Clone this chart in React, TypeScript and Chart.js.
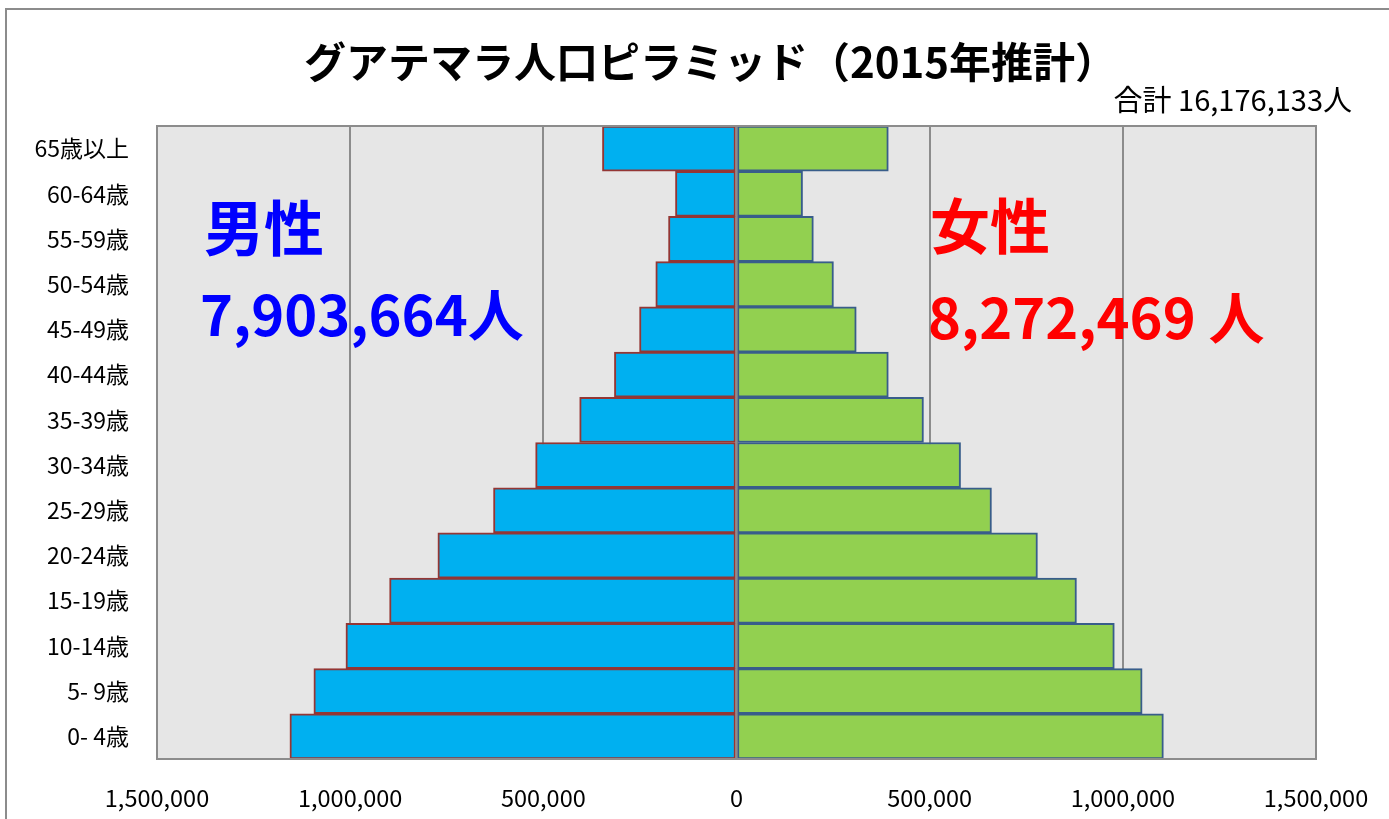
import React, { useEffect, useRef } from "react";
import { Chart, registerables } from "chart.js";

Chart.register(...registerables);

const ageGroups = [
  "65歳以上",
  "60-64歳",
  "55-59歳",
  "50-54歳",
  "45-49歳",
  "40-44歳",
  "35-39歳",
  "30-34歳",
  "25-29歳",
  "20-24歳",
  "15-19歳",
  "10-14歳",
  "5- 9歳",
  "0- 4歳",
];

const maleValues = [
  347000, 158000, 176000, 209000, 251000, 316000, 406000, 520000, 629000,
  773000, 898000, 1011000, 1094000, 1156000,
];

const femaleValues = [
  393000, 171000, 199000, 251000, 310000, 393000, 484000, 580000, 660000,
  779000, 880000, 978000, 1050000, 1105000,
];

const xMin = -1500000;
const xMax = 1500000;
const xStep = 500000;

const titleText = "グアテマラ人口ピラミッド（2015年推計）";
const totalText = "合計 16,176,133人";
const maleLabel = "男性";
const maleTotal = "7,903,664人";
const femaleLabel = "女性";
const femaleTotal = "8,272,469 人";

const JP = '"Noto Sans CJK JP", "Noto Sans", sans-serif';

const decorPlugin = {
  id: "decor",
  beforeDraw(chart: any) {
    const { ctx, chartArea } = chart;
    ctx.save();
    ctx.fillStyle = "#ffffff";
    ctx.fillRect(0, 0, chart.width, chart.height);
    ctx.strokeStyle = "#8c8c8c";
    ctx.lineWidth = 2;
    ctx.strokeRect(6, 9, chart.width + 20, chart.height + 20);
    ctx.fillStyle = "#e6e6e6";
    ctx.fillRect(
      chartArea.left,
      chartArea.top,
      chartArea.right - chartArea.left,
      chartArea.bottom - chartArea.top
    );
    ctx.restore();
  },
  afterDatasetsDraw(chart: any) {
    const { ctx, chartArea, scales } = chart;
    const x0 = scales.x.getPixelForValue(0);
    ctx.save();
    ctx.strokeStyle = "#8c8c8c";
    ctx.lineWidth = 2;
    ctx.beginPath();
    ctx.moveTo(x0, chartArea.top);
    ctx.lineTo(x0, chartArea.bottom);
    ctx.stroke();
    ctx.strokeRect(
      chartArea.left,
      chartArea.top,
      chartArea.right - chartArea.left,
      chartArea.bottom - chartArea.top
    );
    ctx.restore();
  },
  afterDraw(chart: any) {
    const { ctx } = chart;
    ctx.save();
    ctx.textBaseline = "middle";
    ctx.fillStyle = "#000000";
    ctx.font = `bold 42px ${JP}`;
    ctx.textAlign = "left";
    ctx.fillText(titleText, 304, 62);

    ctx.font = `29px ${JP}`;
    ctx.textAlign = "right";
    ctx.fillText(totalText, 1352, 100);

    ctx.textAlign = "left";
    ctx.font = `bold 60px ${JP}`;
    ctx.fillStyle = "#0000ff";
    ctx.fillText(maleLabel, 204, 228);
    ctx.font = `bold 56px ${JP}`;
    ctx.fillText(maleTotal, 200, 315);

    ctx.fillStyle = "#ff0000";
    ctx.font = `bold 60px ${JP}`;
    ctx.fillText(femaleLabel, 930, 226);
    ctx.font = `bold 56px ${JP}`;
    ctx.fillText(femaleTotal, 928, 318);
    ctx.restore();
  },
};

export default function App() {
  const canvasRef = useRef<HTMLCanvasElement | null>(null);

  useEffect(() => {
    const canvas = canvasRef.current;
    if (!canvas) return;
    const chart = new Chart(canvas, {
      type: "bar",
      data: {
        labels: ageGroups,
        datasets: [
          {
            label: "男性",
            data: maleValues.map((v) => -v),
            backgroundColor: "#00b0f0",
            borderColor: "#943634",
            borderWidth: 2,
            borderSkipped: false,
            barPercentage: 1,
            categoryPercentage: 1,
          },
          {
            label: "女性",
            data: femaleValues,
            backgroundColor: "#92d050",
            borderColor: "#385d8a",
            borderWidth: 2,
            borderSkipped: false,
            barPercentage: 1,
            categoryPercentage: 1,
          },
        ],
      },
      options: {
        indexAxis: "y",
        responsive: false,
        animation: false,
        layout: { padding: { top: 126, right: 73, left: 0, bottom: 0 } },
        plugins: {
          legend: { display: false },
          title: { display: false },
          tooltip: { enabled: false },
        },
        scales: {
          x: {
            stacked: true,
            min: xMin,
            max: xMax,
            grid: {
              color: "#8c8c8c",
              lineWidth: 2,
              drawTicks: false,
            },
            border: { display: false },
            ticks: {
              stepSize: xStep,
              autoSkip: false,
              maxRotation: 0,
              padding: 25,
              color: "#000000",
              font: { family: JP, size: 23.5 },
              callback: (v: any) => Math.abs(Number(v)).toLocaleString("en-US"),
            },
            afterFit: (scale: any) => {
              scale.height = 60;
              scale.paddingLeft = 0;
              scale.paddingRight = 0;
            },
          },
          y: {
            stacked: true,
            grid: { display: false, drawTicks: false },
            border: { display: false },
            ticks: {
              padding: 28,
              color: "#000000",
              font: { family: JP, size: 23 },
            },
            afterFit: (scale: any) => {
              scale.width = 157;
              scale.paddingTop = 0;
              scale.paddingBottom = 0;
            },
          },
        },
      },
      plugins: [decorPlugin],
    });
    return () => chart.destroy();
  }, []);

  return (
    <div style={{ position: "absolute", left: 0, top: 0, width: 1389, height: 819 }}>
      <canvas ref={canvasRef} width={1389} height={819} style={{ width: 1389, height: 819 }} />
    </div>
  );
}
